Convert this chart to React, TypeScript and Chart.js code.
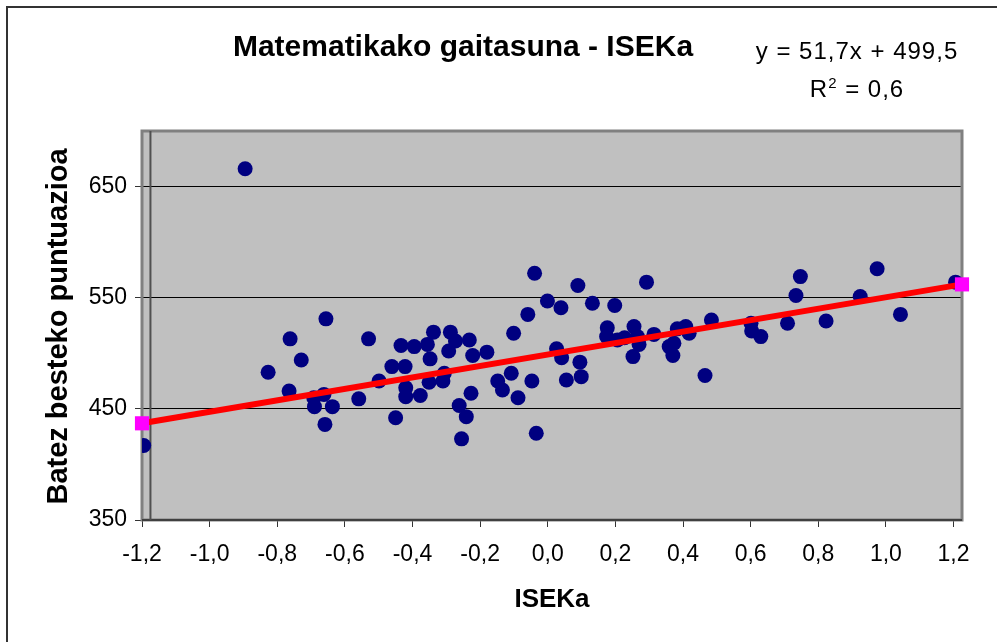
import React, { useEffect, useRef } from 'react';
import { Chart, registerables } from 'chart.js';

Chart.register(...registerables);

// ISEKa index (x) of each school / country
const iseka = [
  -0.895, -0.656, -0.762, -0.729, -0.827, -0.53, -0.765, -0.692, -0.662, -0.69,
  -0.637, -0.659, -0.559, -0.45, -0.461, -0.422, -0.434, -0.395, -0.356, -0.338,
  -0.348, -0.499, -0.42, -0.42, -0.377, -0.351, -1.195, -0.306, -0.31, -0.288,
  -0.273, -0.293, -0.232, -0.222, -0.18, -0.227, -0.262, -0.241, -0.255, -0.148,
  -0.134, -0.108, -0.088, -0.101, -0.059, -0.039, -0.047, -0.034, -0.001, 0.039,
  0.026, 0.041, 0.055, 0.095, 0.099, 0.089, 0.132, 0.198, 0.292, 0.176,
  0.174, 0.206, 0.227, 0.255, 0.265, 0.27, 0.252, 0.314, 0.359, 0.37,
  0.383, 0.408, 0.418, 0.373, 0.465, 0.484, 0.601, 0.603, 0.63, 0.709,
  0.734, 0.747, 0.823, 0.924, 0.974, 1.043, 1.206,
];

// Average score (y)
const puntuazioa = [
  666, 531, 513, 494, 483, 513, 466, 460, 463, 452,
  452, 436, 459, 442, 488, 488, 507, 506, 508, 519,
  495, 475, 469, 461, 462, 474, 417, 482, 475, 519,
  511, 502, 512, 498, 501, 464, 453, 443, 423, 475,
  467, 482, 460, 518, 535, 572, 475, 428, 547, 541,
  504, 496, 476, 492, 479, 561, 545, 543, 564, 523,
  515, 512, 514, 524, 515, 508, 497, 517, 506, 498,
  522, 524, 518, 509, 480, 530, 527, 520, 515, 527,
  552, 569, 529, 551, 576, 535, 564,
];

// Trend line end points
const trendX = [-1.2, 1.225];
const trendY = [437, 562];

const xTicks = [-1.2, -1.0, -0.8, -0.6, -0.4, -0.2, 0.0, 0.2, 0.4, 0.6, 0.8, 1.0, 1.2];
const yTicks = [350, 450, 550, 650];
const xMin = -1.2;
const xMax = 1.225;
const yMin = 350;
const yMax = 700;
const yAxisCross = -1.175;

const chartTitle = 'Matematikako gaitasuna - ISEKa';
const xTitle = 'ISEKa';
const yTitle = 'Batez besteko puntuazioa';
const eqText = 'y = 51,7x + 499,5';
const r2Text = ' = 0,6';

const FONT = '"Liberation Sans", Arial, Helvetica, sans-serif';

const fmt = (v: number) => (Math.abs(v) < 1e-9 ? 0 : v).toFixed(1).replace('.', ',');

const decor = {
  id: 'decor',
  beforeDraw(chart: any) {
    const { ctx, chartArea: a } = chart;
    ctx.save();
    ctx.fillStyle = '#ffffff';
    ctx.fillRect(0, 0, chart.width, chart.height);
    // outer frame
    ctx.strokeStyle = '#333333';
    ctx.lineWidth = 2;
    ctx.beginPath();
    ctx.moveTo(7, chart.height + 4);
    ctx.lineTo(7, 7);
    ctx.lineTo(chart.width + 4, 7);
    ctx.stroke();
    // plot background
    ctx.fillStyle = '#C0C0C0';
    ctx.fillRect(a.left, a.top, a.right - a.left, a.bottom - a.top);
    ctx.restore();
  },
  beforeDatasetsDraw(chart: any) {
    const { ctx, chartArea: a } = chart;
    const xs = chart.scales.x;
    ctx.save();
    // plot border
    ctx.strokeStyle = '#808080';
    ctx.lineWidth = 3;
    ctx.strokeRect(a.left, a.top, a.right - a.left, a.bottom - a.top);
    // bottom axis line
    ctx.strokeStyle = '#404040';
    ctx.lineWidth = 2;
    ctx.beginPath();
    ctx.moveTo(a.left, a.bottom);
    ctx.lineTo(a.right, a.bottom);
    ctx.stroke();
    // vertical axis line
    const px = xs.getPixelForValue(yAxisCross);
    ctx.strokeStyle = '#505050';
    ctx.lineWidth = 2;
    ctx.beginPath();
    ctx.moveTo(px, a.top);
    ctx.lineTo(px, a.bottom);
    ctx.stroke();
    ctx.restore();
  },
  afterDraw(chart: any) {
    const { ctx } = chart;
    ctx.save();
    ctx.fillStyle = '#000';
    ctx.textBaseline = 'alphabetic';
    // title
    ctx.font = `bold 30px ${FONT}`;
    ctx.textAlign = 'center';
    ctx.fillText(chartTitle, 463, 56);
    // x title
    ctx.font = `bold 26px ${FONT}`;
    ctx.fillText(xTitle, 552, 607);
    // y title
    ctx.save();
    ctx.translate(67, 326.5);
    ctx.rotate(-Math.PI / 2);
    ctx.font = `bold 29px ${FONT}`;
    ctx.textAlign = 'center';
    ctx.fillText(yTitle, 0, 0);
    ctx.restore();
    // equation
    ctx.font = `24px ${FONT}`;
    (ctx as any).letterSpacing = '1px';
    ctx.textAlign = 'center';
    ctx.fillText(eqText, 857, 59);
    // R^2
    ctx.textAlign = 'left';
    ctx.font = `24px ${FONT}`;
    const wR = ctx.measureText('R').width;
    const wRest = ctx.measureText(r2Text).width;
    ctx.font = `15px ${FONT}`;
    const w2 = ctx.measureText('2').width;
    const total = wR + w2 + wRest;
    let x = 857 - total / 2;
    ctx.font = `24px ${FONT}`;
    ctx.fillText('R', x, 97);
    x += wR;
    ctx.font = `15px ${FONT}`;
    ctx.fillText('2', x, 88);
    x += w2;
    ctx.font = `24px ${FONT}`;
    ctx.fillText(r2Text, x, 97);
    (ctx as any).letterSpacing = '0px';
    ctx.restore();
  },
};

export default function App() {
  const ref = useRef<HTMLCanvasElement | null>(null);

  useEffect(() => {
    if (!ref.current) return;
    const points = iseka.map((x, i) => ({ x, y: puntuazioa[i] }));
    const trend = trendX.map((x, i) => ({ x, y: trendY[i] }));
    const chart = new Chart(ref.current, {
      type: 'scatter',
      data: {
        datasets: [
          {
            label: 'Joera',
            data: trend,
            showLine: true,
            borderColor: '#FF0000',
            borderWidth: 6,
            pointStyle: 'rect',
            pointRadius: 10,
            pointBackgroundColor: '#FF00FF',
            pointBorderColor: '#FF00FF',
            pointBorderWidth: 0,
            clip: false as any,
            order: 0,
          },
          {
            label: 'Puntuazioa',
            data: points,
            pointStyle: 'circle',
            pointRadius: 7.5,
            pointBackgroundColor: '#000080',
            pointBorderColor: '#000080',
            pointBorderWidth: 0,
            order: 1,
          },
        ],
      },
      options: {
        responsive: false,
        animation: false,
        devicePixelRatio: 1,
        layout: { padding: { top: 131, right: 35, left: 0, bottom: 0 } },
        plugins: {
          legend: { display: false },
          tooltip: { enabled: false },
          title: { display: false },
        },
        scales: {
          x: {
            type: 'linear',
            min: xMin,
            max: xMax,
            afterBuildTicks: (s: any) => {
              s.ticks = xTicks.map((v) => ({ value: v }));
            },
            afterFit: (s: any) => {
              s.height = 122;
            },
            border: { display: false },
            grid: {
              drawOnChartArea: false,
              drawTicks: true,
              tickLength: 7,
              tickColor: '#333333',
              lineWidth: 1,
            },
            ticks: {
              autoSkip: false,
              maxRotation: 0,
              minRotation: 0,
              padding: 14,
              color: '#000',
              font: { family: FONT, size: 23 },
              callback: (v: any) => fmt(Number(v)),
            },
          },
          y: {
            type: 'linear',
            min: yMin,
            max: yMax,
            afterBuildTicks: (s: any) => {
              s.ticks = yTicks.map((v) => ({ value: v }));
            },
            afterFit: (s: any) => {
              s.width = 142;
            },
            border: { display: false },
            grid: {
              drawTicks: true,
              tickLength: 7,
              tickColor: '#333333',
              color: (c: any) => (c.tick && c.tick.value === yMin ? 'rgba(0,0,0,0)' : '#000000'),
              lineWidth: 1,
            },
            ticks: {
              padding: 8,
              color: '#000',
              font: { family: FONT, size: 23 },
              callback: (v: any) => String(v),
            },
          },
        },
      },
      plugins: [decor],
    });
    return () => chart.destroy();
  }, []);

  return (
    <div style={{ position: 'fixed', left: 0, top: 0, width: 997, height: 642, background: '#fff' }}>
      <canvas ref={ref} width={997} height={642} style={{ width: 997, height: 642, display: 'block' }} />
    </div>
  );
}
